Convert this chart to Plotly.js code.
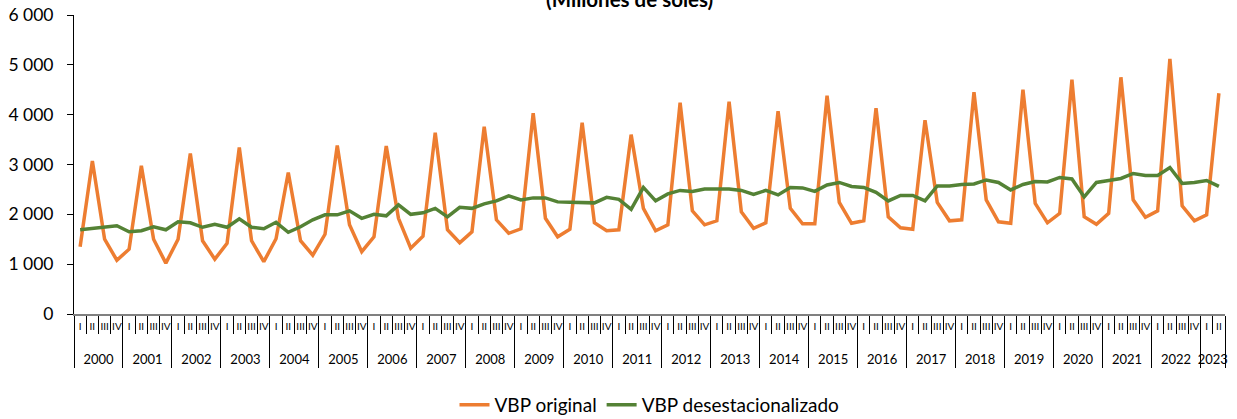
<!DOCTYPE html>
<html>
<head>
<meta charset="utf-8">
<script src="https://cdn.plot.ly/plotly-3.0.1.min.js"></script>
<style>html,body{margin:0;padding:0;background:#fff;}#chart{width:1237px;height:419px;}</style>
</head>
<body>
<div id="chart"></div>
<script>
const years = ['2000','2001','2002','2003','2004','2005','2006','2007','2008','2009','2010','2011','2012','2013','2014','2015','2016','2017','2018','2019','2020','2021','2022','2023'];
const quarters = ['I','II','III','IV'];
const lastYearQuarters = 2;

const vbpOriginal = [
  1350,3070,1500,1080, 1300,2975,1500,1020, 1500,3220,1470,1100, 1420,3340,1470,1050,
  1510,2840,1470,1180, 1600,3380,1790,1250, 1550,3370,1920,1320, 1560,3640,1690,1430,
  1650,3760,1890,1620, 1710,4030,1920,1550, 1700,3840,1830,1670, 1690,3600,2120,1670,
  1790,4240,2070,1790, 1870,4260,2050,1720, 1830,4070,2120,1810, 1810,4380,2240,1820,
  1870,4130,1950,1730, 1700,3890,2240,1870, 1890,4450,2290,1850, 1820,4500,2220,1830,
  2020,4700,1950,1800, 2020,4750,2290,1940, 2070,5120,2170,1870, 1990,4430
];
const vbpDesest = [
  1690,1720,1750,1770, 1650,1670,1750,1690, 1850,1830,1740,1800, 1740,1910,1740,1710,
  1840,1640,1750,1890, 1990,1990,2070,1920, 2000,1970,2190,2000, 2030,2120,1950,2140,
  2120,2210,2270,2370, 2290,2330,2330,2250, 2240,2240,2230,2340, 2300,2100,2540,2270,
  2410,2480,2460,2510, 2510,2510,2480,2400, 2480,2390,2540,2530, 2460,2590,2640,2560,
  2540,2440,2270,2380, 2380,2270,2570,2570, 2600,2610,2690,2640, 2490,2600,2660,2650,
  2740,2710,2350,2640, 2680,2720,2820,2780, 2780,2940,2620,2640, 2680,2560
];

const xYears = [], xQuarters = [];
years.forEach((y, i) => {
  const n = (i === years.length - 1) ? lastYearQuarters : 4;
  for (let q = 0; q < n; q++) {
    xYears.push(y);
    xQuarters.push('<span style="font-size:10px">' + quarters[q] + '</span><br> ');
  }
});
const nPts = xYears.length;

const font = 'Lato, "Open Sans", "Liberation Sans", sans-serif';

const traces = [
  {x:[xYears,xQuarters], y:vbpOriginal, type:'scatter', mode:'lines', name:'VBP original',
   line:{color:'#ED7D31', width:3.5}},
  {x:[xYears,xQuarters], y:vbpDesest, type:'scatter', mode:'lines', name:'VBP desestacionalizado',
   line:{color:'#548235', width:3.5}}
];

const layout = {
  width:1237, height:419,
  margin:{l:74, r:12, t:15, b:105, autoexpand:false},
  paper_bgcolor:'#fff', plot_bgcolor:'#fff',
  separators:', ',
  font:{family:font, color:'#000', size:15},
  title:{text:'<b>(Millones de soles)</b>', x:0.509, xanchor:'center', y:1.0, yanchor:'middle', yref:'container',
         font:{family:font, size:20.5, color:'#000'}},
  showlegend:true,
  legend:{orientation:'h', x:0.5, xanchor:'center', y:-0.304, yanchor:'middle',
          font:{family:font, size:19, color:'#000'}, traceorder:'normal'},
  xaxis:{type:'multicategory', range:[-0.5, nPts-0.5], automargin:false,
         showline:true, linecolor:'#808080', linewidth:2,
         ticks:'outside', tickson:'boundaries', ticklen:18, tickcolor:'#000', tickwidth:1,
         ticklabelstandoff:-2,
         tickmode:'linear', tick0:0, dtick:1, tickangle:0,
         showdividers:true, dividercolor:'#000', dividerwidth:1,
         showgrid:false, zeroline:false, tickfont:{family:font, size:13, color:'#000'}},
  yaxis:{range:[0,6000], dtick:1000, tick0:0, separatethousands:true, showgrid:false, zeroline:false,
         automargin:false,
         showline:true, linecolor:'#000', linewidth:1, ticks:'outside', ticklen:6, tickcolor:'#000',
         ticklabelstandoff:10,
         tickfont:{family:font, size:17.5, color:'#000'}}
};

Plotly.newPlot('chart', traces, layout, {displayModeBar:false, staticPlot:true});
</script>
</body>
</html>
